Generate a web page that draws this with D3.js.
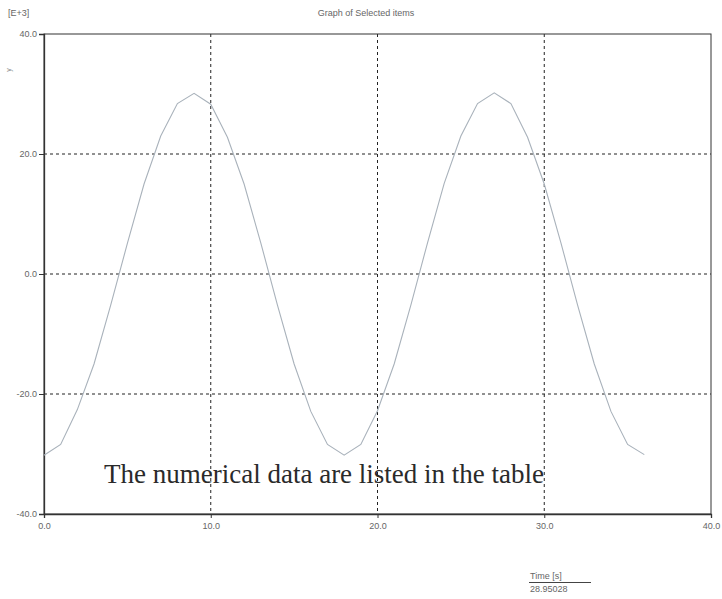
<!DOCTYPE html>
<html>
<head>
<meta charset="utf-8">
<script src="https://cdn.jsdelivr.net/npm/d3@7"></script>
<style>
  html, body { margin: 0; padding: 0; background: #fff; }
  svg { display: block; }
</style>
</head>
<body>
<svg id="chart" width="722" height="599"></svg>
<script>
// ---- data ----
const timeValues = [0,1,2,3,4,5,6,7,8,9,10,11,12,13,14,15,16,17,18,19,20,21,22,23,24,25,26,27,28,29,30,31,32,33,34,35,36];
const seriesValues = [-30.2,-28.4,-22.6,-15.0,-5.2,5.1,15.0,23.0,28.4,30.1,28.3,22.8,15.0,5.2,-5.2,-15.0,-22.9,-28.4,-30.2,-28.4,-22.8,-15.0,-5.2,5.2,15.1,23.0,28.4,30.2,28.4,22.8,15.0,5.2,-5.2,-15.0,-22.9,-28.4,-30.1];
const xTicks = [0,10,20,30,40];
const yTicks = [-40,-20,0,20,40];
const xGrid = [10,20,30];
const yGrid = [-20,0,20];
const titleText = "Graph of Selected items";
const unitText = "[E+3]";
const xLabelText = "Time [s]";
const xValueText = "28.95028";
const noteText = "The numerical data are listed in the table";

(function () {
const svg = d3.select("#chart");
const pLeft = 44, pTop = 34, pRight = 711, pBottom = 514;

const x = d3.scaleLinear().domain([0, 40]).range([pLeft, pRight]);
const y = d3.scaleLinear().domain([-40, 40]).range([pBottom, pTop]);

const tickFont = "Liberation Sans, Arial, sans-serif";

// grid
svg.append("g").selectAll("line").data(xGrid).join("line")
  .attr("x1", d => x(d)).attr("x2", d => x(d))
  .attr("y1", pTop).attr("y2", pBottom)
  .attr("stroke", "#222").attr("stroke-width", 1).attr("stroke-dasharray", "3,3");
svg.append("g").selectAll("line").data(yGrid).join("line")
  .attr("x1", pLeft).attr("x2", pRight)
  .attr("y1", d => y(d)).attr("y2", d => y(d))
  .attr("stroke", "#222").attr("stroke-width", 1).attr("stroke-dasharray", "3,3");

// frame
svg.append("rect")
  .attr("x", pLeft).attr("y", pTop).attr("width", pRight - pLeft).attr("height", pBottom - pTop)
  .attr("fill", "none").attr("stroke", "#333").attr("stroke-width", 1);

// axes
const xAxis = d3.axisBottom(x).tickValues(xTicks).tickFormat(d3.format(".1f")).tickSize(4).tickPadding(5);
const yAxis = d3.axisLeft(y).tickValues(yTicks).tickFormat(d3.format(".1f")).tickSize(5).tickPadding(2);

const gx = svg.append("g").attr("transform", `translate(0,${pBottom})`).call(xAxis);
const gy = svg.append("g").attr("transform", `translate(${pLeft},0)`).call(yAxis);
[gx, gy].forEach(g => {
  g.select(".domain").attr("stroke", "#333").attr("stroke-width", 1.3);
  g.selectAll(".tick line").attr("stroke", "#333");
  g.selectAll(".tick text").attr("fill", "#666").style("font-family", tickFont).style("font-size", "9px");
});
gy.selectAll(".tick text").text(d => d3.format(".1f")(d).replace("\u2212", "-"));

// series line
const line = d3.line().x((d, i) => x(timeValues[i])).y(d => y(d));
svg.append("path").datum(seriesValues)
  .attr("d", line)
  .attr("fill", "none").attr("stroke", "#a9b2bb").attr("stroke-width", 1.1);

// texts
svg.append("text").attr("x", 8).attr("y", 16).text(unitText)
  .attr("fill", "#666").style("font-family", tickFont).style("font-size", "9px");
svg.append("text").attr("x", 366).attr("y", 16).attr("text-anchor", "middle").text(titleText)
  .attr("fill", "#666").style("font-family", tickFont).style("font-size", "9px");
svg.append("text").attr("transform", "translate(11,70) rotate(-90)").attr("text-anchor", "middle").text("y")
  .attr("fill", "#888").style("font-family", tickFont).style("font-size", "7px");

svg.append("text").attr("x", 104).attr("y", 483).text(noteText)
  .attr("fill", "#2a2a2a").style("font-family", "Liberation Serif, Times New Roman, serif").style("font-size", "27px");

svg.append("text").attr("x", 530).attr("y", 579).text(xLabelText)
  .attr("fill", "#666").style("font-family", tickFont).style("font-size", "9px");
svg.append("line").attr("x1", 529).attr("x2", 591).attr("y1", 582.5).attr("y2", 582.5)
  .attr("stroke", "#444").attr("stroke-width", 1);
svg.append("text").attr("x", 530).attr("y", 592).text(xValueText)
  .attr("fill", "#666").style("font-family", tickFont).style("font-size", "9px");
})();
</script>
</body>
</html>
